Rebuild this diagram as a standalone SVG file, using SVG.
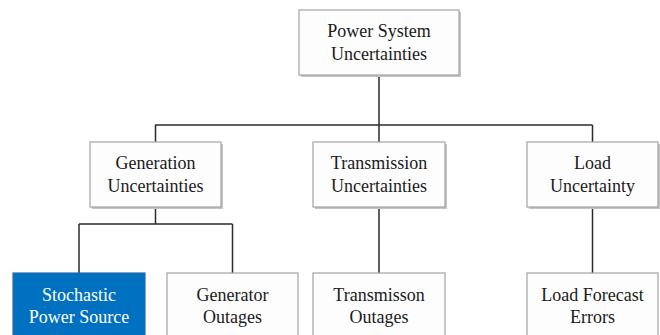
<svg xmlns="http://www.w3.org/2000/svg" width="660" height="335" viewBox="0 0 660 335" font-family="Liberation Serif, serif">
<style>
.box{fill:#fdfdfd;stroke:#a3a3a3;stroke-width:1.2}
.blue{fill:#0070c0;stroke:#2a6aa8;stroke-width:1.2}
.sh{fill:#c4c4c4}
.t{font-size:18px;fill:#1a1a1a;text-anchor:middle}
.tw{fill:#ffffff}
.ln{stroke:#2b2b2b;stroke-width:1.5;fill:none}
</style>
<rect width="660" height="335" fill="#ffffff"/>
<g id="connectors">
<path class="ln" d="M379,75 V125 M155,125 H592.5 M155.5,125 V142 M379,125 V142 M592.5,125 V142"/>
<path class="ln" d="M155.5,207 V224 M79,224 H232.5 M79,224 V273 M232.5,224 V273"/>
<path class="ln" d="M379,207 V273"/>
<path class="ln" d="M592.5,207 V273"/>
</g>
<g id="power-system">
<rect class="sh" x="301" y="12" width="160" height="65"/>
<rect class="box" x="299" y="10" width="160" height="65"/>
<text class="t" x="379" y="37">Power System</text>
<text class="t" x="379" y="60">Uncertainties</text>
</g>
<g id="generation">
<rect class="sh" x="92" y="144" width="131" height="65"/>
<rect class="box" x="90" y="142" width="131" height="65"/>
<text class="t" x="155.5" y="169">Generation</text>
<text class="t" x="155.5" y="192">Uncertainties</text>
</g>
<g id="transmission">
<rect class="sh" x="315" y="144" width="132" height="65"/>
<rect class="box" x="313" y="142" width="132" height="65"/>
<text class="t" x="379" y="169">Transmission</text>
<text class="t" x="379" y="192">Uncertainties</text>
</g>
<g id="load">
<rect class="sh" x="529" y="144" width="131" height="65"/>
<rect class="box" x="527" y="142" width="131" height="65"/>
<text class="t" x="592.5" y="169">Load</text>
<text class="t" x="592.5" y="192">Uncertainty</text>
</g>
<g id="stochastic">
<rect class="blue" x="13" y="273" width="132" height="70"/>
<text class="t tw" x="79" y="301">Stochastic</text>
<text class="t tw" x="79" y="323">Power Source</text>
</g>
<g id="generator-outages">
<rect class="box" x="167" y="273" width="131" height="70"/>
<text class="t" x="232.5" y="301">Generator</text>
<text class="t" x="232.5" y="323">Outages</text>
</g>
<g id="transmission-outages">
<rect class="box" x="313" y="273" width="132" height="70"/>
<text class="t" x="379" y="301">Transmisson</text>
<text class="t" x="379" y="323">Outages</text>
</g>
<g id="load-forecast">
<rect class="box" x="527" y="273" width="131" height="70"/>
<text class="t" x="592.5" y="301">Load Forecast</text>
<text class="t" x="592.5" y="323">Errors</text>
</g>
</svg>
